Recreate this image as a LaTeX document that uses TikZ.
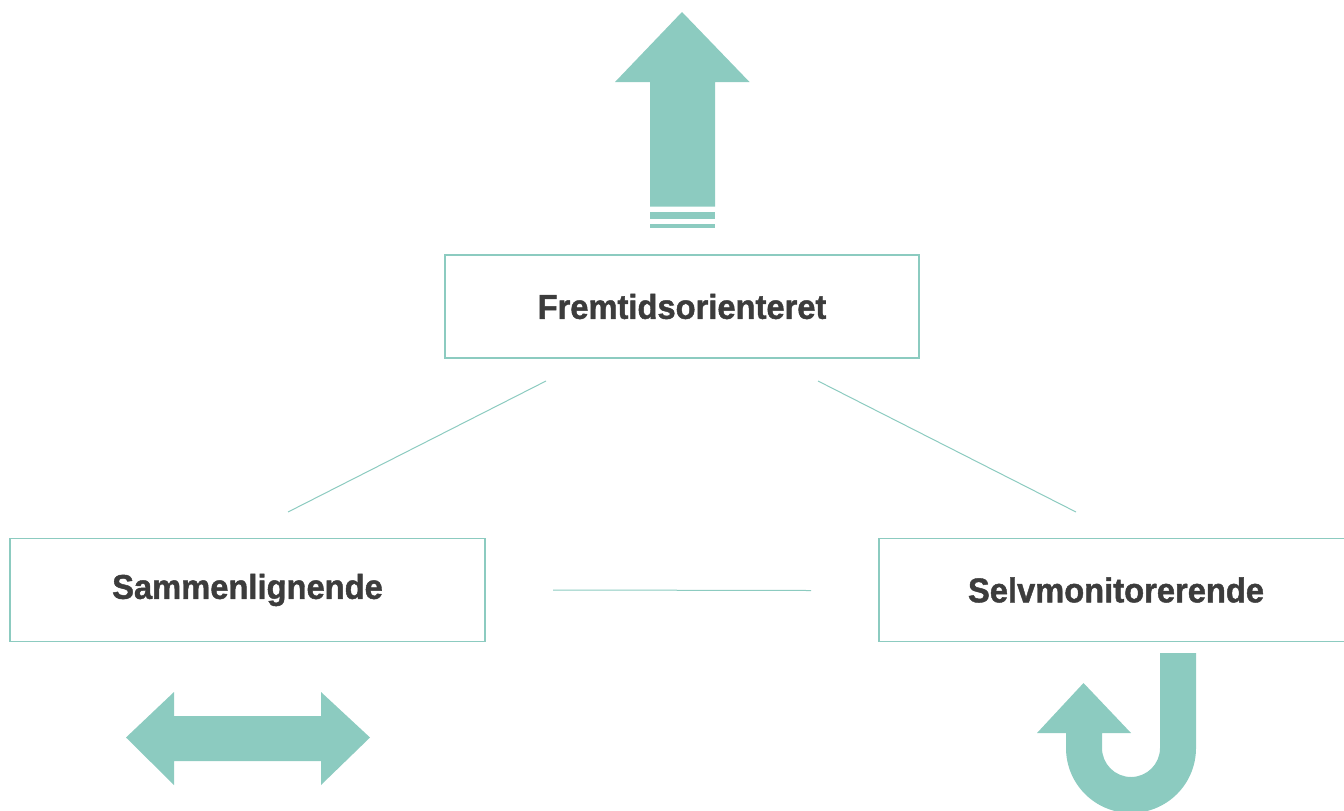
\documentclass[tikz,border=0pt]{standalone}
\usepackage{fontspec}
\setmainfont{Liberation Sans}[BoldFeatures={FakeBold=1.3,FakeStretch=0.95}]
\begin{document}
\begin{tikzpicture}[x=0.75pt,y=-0.75pt,
  box/.style={draw=tealc,line width=0.9pt,minimum width=474*0.75pt,minimum height=103*0.75pt,inner sep=0pt,
    font=\fontsize{25.8}{30}\selectfont\bfseries,text=textc},
  link/.style={draw=tealc,line width=0.75pt}]
\definecolor{tealc}{HTML}{8CCBC0}
\definecolor{textc}{HTML}{3C3C3C}
\clip (0,0) rectangle (1344,810);
\useasboundingbox (0,0) rectangle (1344,810);
\node[box] (top) at (682,306.5) {Fremtidsorienteret};
\node[box,minimum width=475*0.75pt] (left) at (247.5,590) {Sammenlignende};
\node[box] (right) at (1116,590) {Selvmonitorerende};
% connector ends
\coordinate (tl) at (546,381);
\coordinate (lt) at (288,512);
\coordinate (tr) at (818,381);
\coordinate (rt) at (1076,512);
\coordinate (lr) at (553,590);
\coordinate (rl) at (811,590.5);
\draw[link] (tl) -- (lt);
\draw[link] (tr) -- (rt);
\draw[link] (lr) -- (rl);
% up arrow
\fill[tealc] (650,206.5) -- (650,82) -- (615,82) -- (682,12) -- (749.5,82) -- (715,82) -- (715,206.5) -- cycle;
\fill[tealc] (650,212) rectangle (715,218.5);
\fill[tealc] (650,224) rectangle (715,228);
% double arrow
\fill[tealc] (126,737.5) -- (174,692) -- (174,716) -- (321,716) -- (321,692) -- (370,737.5) -- (321,785) -- (321,761) -- (174,761) -- (174,785) -- cycle;
% J arrow
\fill[tealc] (1160,653) -- (1196,653) -- (1196,748)
  .. controls (1196,784) and (1167,813) .. (1131,813)
  .. controls (1095,813) and (1066,784) .. (1066,748)
  -- (1066,733) -- (1037,733) -- (1083.5,683) -- (1131,733) -- (1102,733) -- (1102,748)
  .. controls (1102,764) and (1115,777) .. (1131,777)
  .. controls (1147,777) and (1160,764) .. (1160,748) -- cycle;
\end{tikzpicture}
\end{document}
